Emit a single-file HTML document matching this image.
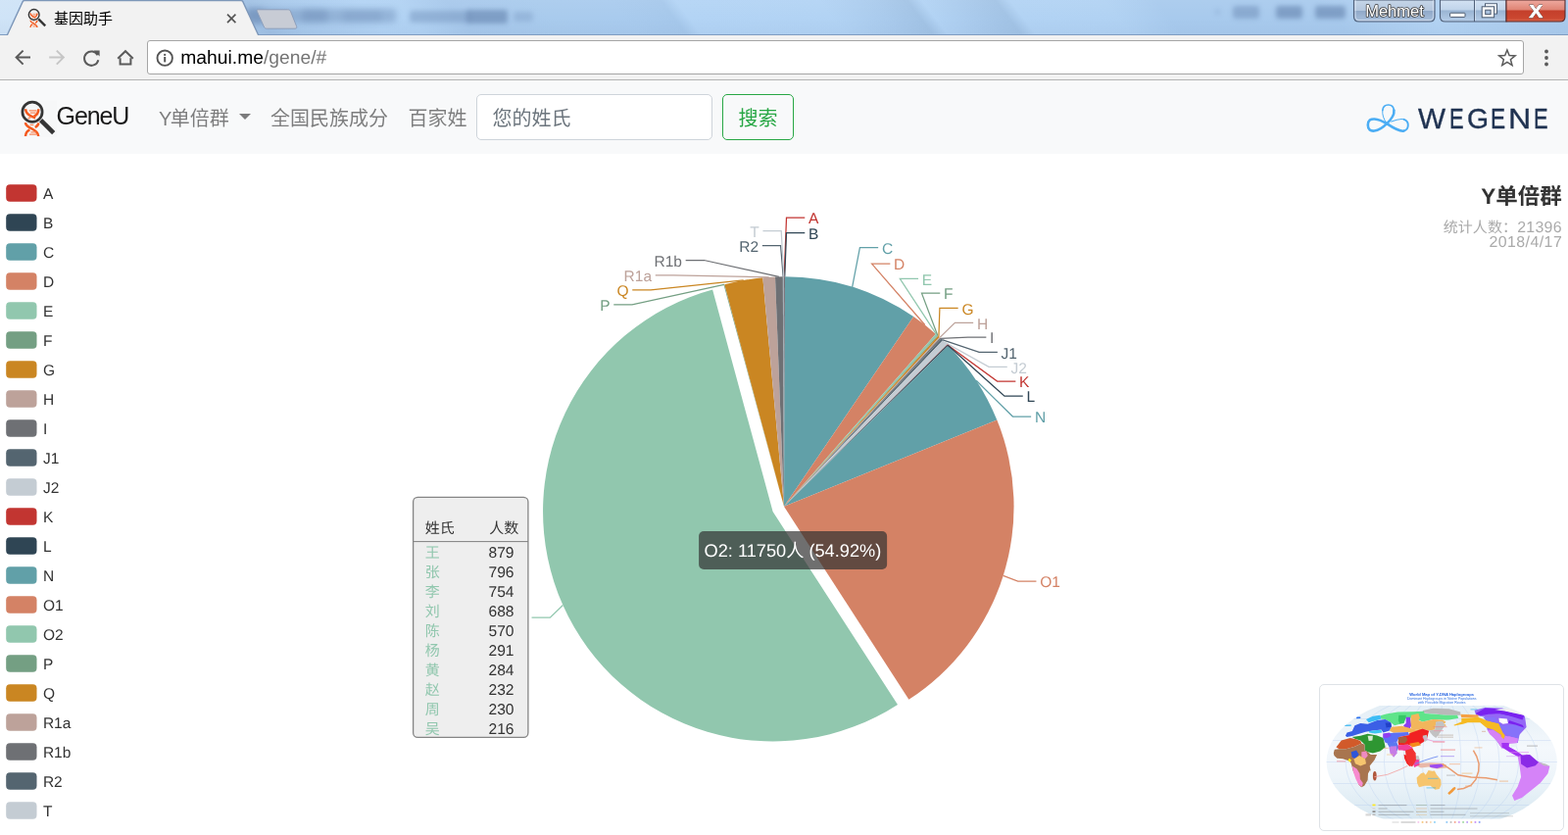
<!DOCTYPE html>
<html lang="zh-CN">
<head>
<meta charset="utf-8">
<title>基因助手</title>
<style>
*{box-sizing:border-box}
html,body{margin:0;padding:0;width:1600px;height:852px;overflow:hidden;background:#fff}
body{font-family:"Liberation Sans","Noto Sans CJK SC",sans-serif;position:relative;color:#333}
.abs{position:absolute}
#titlebar{left:0;top:0;width:1600px;height:36px;overflow:hidden;
 background:
  linear-gradient(180deg,rgba(255,255,255,.06) 0,rgba(255,255,255,0) 50%,rgba(70,100,150,.05) 100%),
  linear-gradient(53.13deg,#d0e4f7 0px,#cee3f7 42px,#b6d4f2 58px,#a9c9eb 200px,#a0c0e3 222px,#a8c9eb 250px,#b2d3f4 315px,#b1d2f3 347px,#a7c8eb 385px,#a9cbed 460px,#a9cbee 520px,#a6c8eb 561px,#b3d4f5 573px,#b2d3f4 690px,#a9caec 736px,#a2c3e5 762px,#b2d3f4 774px,#a9caec 806px,#a2c3e5 834px,#b2d3f4 846px,#b1d2f3 923px,#a8caed 965px,#a8caed 1100px,#b3d3f3 1180px,#a8c9eb 1302px);}
#titlebar:after{content:"";position:absolute;left:0;right:0;bottom:0;height:1px;background:#7f9cc1}
.blurtxt{position:absolute;background:#6b8ab4;filter:blur(2.6px);border-radius:3px;opacity:.75}
#toolbar{left:0;top:36px;width:1600px;height:46px;background:#f2f2f2;border-bottom:1px solid #b3b3b3}
#omni{left:150px;top:41px;width:1405px;height:35px;background:#fff;border:1px solid #a6a6a6;border-radius:3px}
#url{left:184.3px;top:47.8px;font-size:19.3px;line-height:24px;color:#000;white-space:nowrap;letter-spacing:0;text-rendering:geometricPrecision}
#url span{color:#757575}
#tabtitle{left:55px;top:7px;font-size:15px;line-height:24px;color:#000;white-space:nowrap}
#page{left:0;top:82px;width:1600px;height:770px;background:#fff}
#navbar{left:0;top:82px;width:1600px;height:75px;background:#f8f9fa}
.brand{left:57.6px;top:103px;font-size:25px;line-height:30px;color:rgba(0,0,0,.9);white-space:nowrap;letter-spacing:-1.1px}
.nl{top:105.7px;font-size:20px;line-height:30px;color:rgba(0,0,0,.5);white-space:nowrap}
#caret{left:243.8px;top:116px;width:0;height:0;border-left:6.25px solid transparent;border-right:6.25px solid transparent;border-top:6.25px solid rgba(0,0,0,.5)}
#inp{left:486px;top:96px;width:241px;height:47px;background:#fff;border:1px solid #ced4da;border-radius:5px}
#ph{left:502.5px;top:105.7px;font-size:20px;line-height:30px;color:#6c757d;white-space:nowrap}
#btn{left:737px;top:96px;width:73px;height:47px;border:1px solid #28a745;border-radius:5px;background:transparent}
#btntxt{left:753.5px;top:105.7px;font-size:20px;line-height:30px;color:#28a745;white-space:nowrap}
#wegene{left:1440px;top:101.2px;width:150px;height:40px;font-size:29.5px;line-height:40px;color:#1f3251}#wegene span{position:absolute;top:0;display:block;transform-origin:0 0;-webkit-text-stroke:.35px #1f3251}
#thumb{left:1346px;top:698px;width:250px;height:150px;background:#fff;border:1px solid #dee2e6;border-radius:5px}
svg{position:absolute;left:0;top:0;overflow:visible}
svg text{font-family:"Liberation Sans","Noto Sans CJK SC",sans-serif}
#chart text{text-rendering:geometricPrecision}
</style>
</head>
<body>
<!-- ================= browser chrome ================= -->
<div id="titlebar" class="abs">
 <div class="blurtxt" style="left:250px;top:9px;width:154px;height:14px;opacity:.42;filter:blur(3px)"></div>
 <div class="blurtxt" style="left:252px;top:9px;width:18px;height:15px;opacity:.5;filter:blur(3px)"></div>
 <div class="blurtxt" style="left:308px;top:10px;width:26px;height:12px;opacity:.4;filter:blur(3px)"></div>
 <div class="blurtxt" style="left:350px;top:11px;width:40px;height:11px;opacity:.25;filter:blur(3px)"></div>
 <div class="blurtxt" style="left:418px;top:11px;width:62px;height:12px;opacity:.42"></div>
 <div class="blurtxt" style="left:476px;top:10px;width:42px;height:14px;opacity:.68"></div>
 <div class="blurtxt" style="left:524px;top:12px;width:20px;height:10px;opacity:.3"></div>
 <div class="blurtxt" style="left:1240px;top:9px;width:5px;height:6px;opacity:.25"></div>
 <div class="blurtxt" style="left:1258px;top:6px;width:27px;height:13px;opacity:.5"></div>
 <div class="blurtxt" style="left:1302px;top:6px;width:27px;height:13px;opacity:.68"></div>
 <div class="blurtxt" style="left:1342px;top:6px;width:31px;height:13px;opacity:.68"></div>
</div>
<div id="toolbar" class="abs"></div>
<svg id="chrome" class="abs" width="1600" height="82" viewBox="0 0 1600 82">
<defs>
 <linearGradient id="gMeh" x1="0" y1="0" x2="0" y2="1">
  <stop offset="0" stop-color="#c6d6e8"/><stop offset="0.48" stop-color="#b4c7de"/><stop offset="0.5" stop-color="#8fa8c8"/><stop offset="1" stop-color="#a9c0dc"/>
 </linearGradient>
 <linearGradient id="gBtn" x1="0" y1="0" x2="0" y2="1">
  <stop offset="0" stop-color="#d3e2f3"/><stop offset="0.45" stop-color="#c0d4ea"/><stop offset="0.5" stop-color="#9ab4d3"/><stop offset="1" stop-color="#b5cde8"/>
 </linearGradient>
 <linearGradient id="gClose" x1="0" y1="0" x2="0" y2="1">
  <stop offset="0" stop-color="#eeaaa0"/><stop offset="0.45" stop-color="#df8474"/><stop offset="0.5" stop-color="#c43f2b"/><stop offset="0.85" stop-color="#cb4730"/><stop offset="1" stop-color="#d8684e"/>
 </linearGradient>
</defs>
<!-- active tab -->
<path d="M6.8 37 L23.3 1.4 Q23.8 0.6 25 0.6 L246 0.6 Q247.2 0.6 247.700 1.4 L264.2 37" fill="#f2f2f2" stroke="#7d97b9" stroke-width="1.4" stroke-linejoin="round"/>
<rect x="0" y="36" width="1600" height="3" fill="#f2f2f2"/>
<!-- new tab button -->
<path d="M263.3 9.8 L293.6 9.8 C295.2 9.8 296 10.4 296.6 11.8 L302.6 26.8 C303.2 28.4 302.6 29.2 301 29.2 L272.600 29.2 C270.8 29.2 269.8 28.6 269.2 27 L262.400 11.8 C261.8 10.5 262.100 9.8 263.3 9.8 Z" fill="#c8ccd5" stroke="#8c9fbc" stroke-width="1"/>
<!-- window buttons -->
<path d="M1381.5 0 L1381.5 17 Q1381.5 22 1386.5 22 L1459 22 Q1464 22 1464 17 L1464 0 Z" fill="url(#gMeh)" stroke="#4f5f78" stroke-width="1.1"/>
<path d="M1383 0 L1383 16.5 Q1383 20.6 1387 20.6 L1458.6 20.6 Q1462.6 20.6 1462.6 16.5 L1462.6 0" fill="none" stroke="#e6eef8" stroke-width="0.8" opacity=".8"/>
<path d="M1469.5 0 L1469.5 17 Q1469.5 22 1474.5 22 L1537 22 L1537 0 Z" fill="url(#gBtn)" stroke="#4f5f78" stroke-width="1.1"/>
<path d="M1537 0 L1537 22 L1592 22 Q1597 22 1597 17 L1597 0 Z" fill="url(#gClose)" stroke="#5a2a2a" stroke-width="1.1"/>
<line x1="1504.5" y1="0" x2="1504.5" y2="22" stroke="#4f5f78" stroke-width="1"/>
<line x1="1505.6" y1="0" x2="1505.6" y2="21" stroke="#e6eef8" stroke-width="0.8" opacity=".7"/>
<!-- minimize -->
<rect x="1479.6" y="13.2" width="15.4" height="4.2" rx="0.8" fill="#fff" stroke="#4b5a70" stroke-width="1"/>
<!-- maximize/restore -->
<rect x="1515.5" y="3.8" width="12" height="10.2" fill="#c9d8ea" stroke="#4b5a70" stroke-width="1"/>
<rect x="1516.8" y="5.1" width="9.4" height="7.6" fill="none" stroke="#fff" stroke-width="1.4"/>
<rect x="1512.2" y="6.8" width="12.4" height="11" fill="#fff" stroke="#4b5a70" stroke-width="1"/>
<rect x="1515.7" y="10.2" width="5.4" height="4.4" fill="#a9c0dc" stroke="#4b5a70" stroke-width="1"/>
<!-- close X -->
<g transform="translate(1567.4,17.7) scale(1.16,1.0)" text-anchor="middle" font-size="18.2" font-weight="bold" style="font-family:'Liberation Sans',sans-serif"><text x="0" y="0" fill="#fff" stroke="#fff" stroke-width="0.6" stroke-linejoin="round" style="filter:drop-shadow(0 0 .55px #401818) drop-shadow(0 0 .45px #401818)">X</text></g>
<text x="1423" y="17.2" text-anchor="middle" font-size="16.5" fill="#fff" stroke="#3d3d3d" stroke-width="1.6" paint-order="stroke" stroke-linejoin="round" style="font-family:'Liberation Sans',sans-serif">Mehmet</text>

</svg>
<div id="omni" class="abs"></div>
<div id="tabtitle" class="abs">基因助手</div>
<div id="url" class="abs">mahui.me<span>/gene/#</span></div>
<svg id="chrome2" class="abs" width="1600" height="82" viewBox="0 0 1600 82">
<g fill="none" stroke="#5a5a5a" stroke-width="2" stroke-linecap="butt" stroke-linejoin="miter">
 <!-- back -->
 <path d="M31 58.6 H17.2 M23.6 51.6 L16.6 58.6 L23.6 65.6"/>
 <!-- reload -->
 <path d="M99.6 56.2 A7.2 7.2 0 1 0 100.3 61.2"/>
 <!-- home -->
 <path d="M122.6 59.2 V65.6 H133.4 V59.2" />
 <path d="M120.2 59.8 L128 52.2 L135.8 59.8" />
</g>
<path d="M95.6 51.4 H101.6 V57.6 Z" fill="#5a5a5a"/>
<!-- forward (disabled) -->
<g fill="none" stroke="#c6c6c6" stroke-width="2">
 <path d="M50.2 58.6 H64.2 M57.8 51.6 L64.8 58.6 L57.8 65.6"/>
</g>
<!-- tab close -->
<path d="M232 14.7 L240.4 23.1 M240.4 14.7 L232 23.1" stroke="#555" stroke-width="1.7" fill="none"/>
<!-- info icon -->
<circle cx="168.2" cy="59.2" r="7.7" fill="none" stroke="#555" stroke-width="1.9"/>
<rect x="167.2" y="58" width="2" height="5.4" fill="#555"/>
<rect x="167.2" y="54.9" width="2" height="2" fill="#555"/>
<!-- star -->
<path d="M1537.9 51.0 L1540.1 56.6 L1546.1 56.9 L1541.4 60.7 L1543.0 66.6 L1537.9 63.3 L1532.8 66.6 L1534.4 60.7 L1529.7 56.9 L1535.7 56.6 Z" fill="none" stroke="#5a5a5a" stroke-width="1.5" stroke-linejoin="miter"/>
<!-- menu dots -->
<circle cx="1578" cy="52.5" r="1.9" fill="#5a5a5a"/><circle cx="1578" cy="59" r="1.9" fill="#5a5a5a"/><circle cx="1578" cy="65.5" r="1.9" fill="#5a5a5a"/>
<!-- favicon -->
<use href="#geneu" transform="translate(17.2,-45.6) scale(0.53)"/>

</svg>

<!-- ================= page ================= -->
<div id="navbar" class="abs"></div>
<div class="abs brand">GeneU</div>
<div class="abs nl" style="left:162px"><span style="letter-spacing:-1.6px">Y</span>单倍群</div>
<div id="caret" class="abs"></div>
<div class="abs nl" style="left:276px">全国民族成分</div>
<div class="abs nl" style="left:416.5px">百家姓</div>
<div id="inp" class="abs"></div>
<div id="ph" class="abs">您的姓氏</div>
<div id="btn" class="abs"></div>
<div id="btntxt" class="abs">搜索</div>
<div id="wegene" class="abs"><span style="left:7.02px;transform:scaleX(1.007)">W</span><span style="left:39.15px;transform:scaleX(0.744)">E</span><span style="left:56.82px;transform:scaleX(0.961)">G</span><span style="left:81.29px;transform:scaleX(0.769)">E</span><span style="left:99.21px;transform:scaleX(1.092)">N</span><span style="left:125.35px;transform:scaleX(0.744)">E</span></div>
<svg id="logos" class="abs" width="1600" height="160" viewBox="0 0 1600 160">
<defs>
<g id="geneu">
 <g fill="none" stroke="#f4591d" stroke-width="2.5" stroke-linecap="butt">
  <path d="M26.1 111.3 C26.4 116.6 30.8 118.4 36.2 120.4"/>
  <path d="M39.3 111.3 C39.3 115.2 37.4 117.6 34.6 118.6"/>
  <path d="M31.6 119.6 C30.6 120 29.6 120.5 28.6 121.2" stroke-width="1.6" stroke="#f7946a"/>
  <path d="M25.9 125.2 C26.6 132 38.6 130.6 39.2 139"/>
  <path d="M39.3 125.4 C39.1 127.6 37.8 129 35.8 130"/>
  <path d="M30.4 132.4 C27.6 133.6 26.2 135.6 26 139"/>
 </g>
 <path d="M29.6 112.9 H37.4 M30.8 115.1 H36.6 M30.6 127.3 H34.4 M31.4 134.9 H36.6 M30 137.1 H37.6" stroke="#f7895c" stroke-width="1.3" fill="none"/>
 <circle cx="33" cy="114.2" r="10.1" fill="none" stroke="#353535" stroke-width="2.7"/>
 <path d="M41.6 122.6 L54.7 135.7" stroke="#353535" stroke-width="4.5" stroke-linecap="butt"/>
</g>
</defs>
<rect x="20.5" y="102.5" width="37.5" height="37.5" fill="#f6f7f8"/>
<use href="#geneu"/>
<!-- WeGene knot -->
<g fill="none" stroke="#4badf4" stroke-linecap="round" stroke-linejoin="round">
 <path d="M1414.3 124.8 C1412 121.5 1410.2 117 1410.8 112.5" stroke-width="1"/>
 <path d="M1410.8 112.5 C1411.6 105.3 1421.6 105.1 1422.4 112.5" stroke-width="1.7"/>
 <path d="M1422.4 112.5 C1423 117 1420.5 121 1415.1 126.2 C1407 134.5 1395.8 137 1395.8 127.6 C1395.8 117.800 1407.5 121.5 1415.1 126.2 C1423 131.5 1429.5 134.2 1432.500 133.6" stroke-width="2.6"/>
 <path d="M1432.500 133.6 C1435.2 133 1436.800 131 1436.800 127.6 C1436.800 124.5 1435.2 122.6 1432.6 121.8" stroke-width="1.9"/>
 <path d="M1432.6 121.8 C1429 121 1424 122.300 1419.8 124.100" stroke-width="1.1"/>
</g>

</svg>

<div id="thumb" class="abs"></div>
<svg id="map" class="abs" width="1600" height="852" viewBox="0 0 1600 852">
<defs>
<clipPath id="mclip"><rect x="1352" y="720" width="238" height="115.4"/></clipPath>
<clipPath id="eclip"><ellipse cx="1471.2" cy="777.3" rx="117.6" ry="68"/></clipPath>
<linearGradient id="sea" x1="0" y1="0" x2="0" y2="1"><stop offset="0" stop-color="#e1edf5"/><stop offset="0.38" stop-color="#f4f8fc"/><stop offset="0.62" stop-color="#eef5fa"/><stop offset="1" stop-color="#d5e6f0"/></linearGradient>
<filter id="mb" x="-5%" y="-5%" width="110%" height="110%"><feGaussianBlur stdDeviation="0.7"/></filter>
<filter id="mb2" x="-5%" y="-20%" width="110%" height="140%"><feGaussianBlur stdDeviation="0.35"/></filter>
</defs>
<g clip-path="url(#mclip)"><g clip-path="url(#eclip)">
<rect x="1350" y="715" width="245" height="125" fill="url(#sea)"/>
<g fill="none" stroke="#a9c4ee" stroke-width="0.55" opacity=".5"><line x1="1352" y1="733.5" x2="1590" y2="733.5"/><line x1="1352" y1="755.5" x2="1590" y2="755.5"/><line x1="1352" y1="777.5" x2="1590" y2="777.5"/><line x1="1352" y1="799.5" x2="1590" y2="799.5"/><line x1="1352" y1="821.5" x2="1590" y2="821.5"/><path d="M1471.2 709.3 A98.0 68 0 0 0 1471.2 845.3"/><path d="M1471.2 709.3 A78.4 68 0 0 0 1471.2 845.3"/><path d="M1471.2 709.3 A58.8 68 0 0 0 1471.2 845.3"/><path d="M1471.2 709.3 A39.2 68 0 0 0 1471.2 845.3"/><path d="M1471.2 709.3 A19.6 68 0 0 0 1471.2 845.3"/><line x1="1471.2" y1="715" x2="1471.2" y2="840"/><path d="M1471.2 709.3 A19.6 68 0 0 1 1471.2 845.3"/><path d="M1471.2 709.3 A39.2 68 0 0 1 1471.2 845.3"/><path d="M1471.2 709.3 A58.8 68 0 0 1 1471.2 845.3"/><path d="M1471.2 709.3 A78.4 68 0 0 1 1471.2 845.3"/><path d="M1471.2 709.3 A98.0 68 0 0 1 1471.2 845.3"/></g>
<g filter="url(#mb)">
<polygon points="1451.6,724.9 1462.2,722.8 1476.0,723.1 1466.0,723.1 1478.7,723.3 1490.3,726.5 1490.3,729.7 1466.0,729.7 1476.0,729.7 1460.0,728.1 1452.7,727.6" fill="#b9b9b9"/>
<polygon points="1408.3,730.2 1414.6,728.6 1426.3,726.5 1441.0,726.3 1452.7,725.7 1453.7,728.1 1462.2,728.6 1476.0,729.7 1466.0,729.7 1487.1,729.7 1488.2,732.8 1478.7,734.4 1466.0,735.0 1476.0,734.4 1462.2,733.9 1451.6,736.5 1447.4,734.4 1441.0,732.8 1434.7,732.3 1428.4,738.7 1423.1,740.2 1418.9,737.1 1413.6,733.9 1409.4,733.4" fill="#5ee48a"/>
<polygon points="1427.3,729.7 1434.7,729.7 1434.7,732.3 1432.6,738.1 1428.4,738.7 1426.8,735.0" fill="#35c766"/>
<polygon points="1434.7,731.8 1438.9,731.8 1440.2,740.2 1438.9,742.9 1433.6,742.9 1432.1,740.2 1434.7,738.1" fill="#8b3df2"/>
<polygon points="1440.0,729.7 1447.4,728.1 1449.0,732.8 1447.4,735.0 1451.6,736.5 1462.2,733.9 1476.0,734.4 1466.0,735.0 1472.3,735.0 1475.5,736.5 1472.3,740.2 1470.2,742.4 1476.0,740.2 1470.6,736.0 1465.3,737.1 1464.3,744.5 1457.9,745.5 1451.6,743.4 1445.3,744.5 1440.0,743.4 1439.5,736.0" fill="#f2b65c"/>
<polygon points="1465.3,736.5 1472.2,736.0 1474.3,740.2 1469.5,747.6 1465.3,752.9 1462.2,750.8 1457.9,745.5 1464.3,744.5" fill="#c2c2c2"/>
<polygon points="1419.9,741.8 1430.5,740.8 1438.9,742.9 1445.3,744.5 1451.6,743.4 1452.7,747.6 1441.0,748.2 1436.8,747.1 1422.0,747.8 1417.8,745.5" fill="#f3b256"/>
<polygon points="1372.9,750.8 1374.5,747.6 1379.8,746.0 1382.4,740.2 1388.2,738.1 1395.6,738.7 1405.1,735.0 1413.6,733.9 1418.9,737.1 1419.9,741.3 1417.8,745.5 1411.5,747.6 1409.4,744.5 1400.9,745.5 1393.5,746.8 1386.1,748.9 1379.8,751.0 1374.5,752.1" fill="#3a5fe6"/>
<polygon points="1413.6,737.6 1419.4,737.6 1419.9,741.5 1414.6,742.4" fill="#2340c8"/>
<polygon points="1394.0,733.9 1400.9,730.7 1408.3,729.7 1409.4,733.4 1405.1,735.0 1396.7,737.3" fill="#3ebcf5"/>
<polygon points="1384.0,731.6 1388.2,731.4 1388.4,733.1 1384.2,733.3" fill="#2a6ff0"/>
<polygon points="1367.1,739.7 1378.7,739.4 1378.7,740.7 1367.1,740.9" fill="#35b5f0"/>
<polygon points="1396.7,746.0 1405.1,745.0 1409.4,745.0 1410.4,747.6 1403.0,748.5 1397.2,747.6" fill="#3ec6f0"/>
<polygon points="1379.8,752.1 1388.2,750.8 1395.6,748.7 1405.1,750.6 1411.5,752.9 1412.5,757.1 1413.6,762.4 1408.3,766.6 1400.9,768.5 1395.6,767.2 1392.5,765.6 1392.5,759.8 1388.2,755.6 1383.0,754.0" fill="#2e9632"/>
<polygon points="1395.6,750.8 1400.9,750.8 1400.4,755.6 1396.7,755.9" fill="#d9ecd2"/>
<polygon points="1411.5,748.7 1422.0,747.8 1436.8,747.1 1438.1,750.0 1427.8,752.1 1425.4,757.1 1418.9,758.7 1413.6,757.7 1411.3,752.9" fill="#5b70f6"/>
<polygon points="1411.3,748.5 1417.8,747.6 1419.4,750.8 1415.7,753.1 1411.5,752.7" fill="#8f3ef2"/>
<polygon points="1415.2,758.2 1425.2,757.1 1427.3,762.4 1424.7,767.7 1422.0,770.9 1419.9,766.6 1417.8,762.4" fill="#5b78f0"/>
<polygon points="1418.9,761.4 1425.2,761.4 1425.0,766.6 1422.2,769.0 1419.4,766.6" fill="#c67be6"/>
<polygon points="1438.1,748.2 1451.6,743.4 1458.1,745.7 1456.3,752.9 1452.7,757.1 1447.4,760.3 1441.0,761.4 1436.8,759.8 1427.3,760.3 1426.5,757.1 1427.8,752.1 1438.1,750.0" fill="#f12424"/>
<polygon points="1426.5,752.4 1434.7,751.6 1436.3,755.0 1433.6,758.2 1427.3,758.0" fill="#a3623c"/>
<polygon points="1438.1,758.7 1447.4,757.1 1450.0,760.3 1441.0,762.4" fill="#f58a1e"/>
<polygon points="1451.6,750.8 1455.8,749.7 1456.9,755.0 1453.7,757.1" fill="#c2c2c2"/>
<polygon points="1426.3,760.3 1436.8,759.8 1441.0,762.4 1442.1,767.7 1438.9,770.9 1435.8,766.6 1430.5,765.6 1426.8,765.6" fill="#f2409a"/>
<polygon points="1435.8,765.6 1441.6,763.5 1442.6,769.8 1438.9,771.1" fill="#f86ac0"/>
<polygon points="1432.6,769.8 1435.8,770.9 1440.0,778.3 1438.9,781.6 1435.8,779.3 1433.1,774.0" fill="#f12424"/>
<polygon points="1438.9,771.9 1447.4,770.9 1449.0,776.1 1444.2,781.4 1440.0,779.3" fill="#c5c5c5"/>
<polygon points="1442.6,775.6 1447.4,775.1 1447.9,779.3 1443.7,780.2" fill="#f240a0"/>
<polygon points="1363.4,762.6 1368.7,755.6 1377.7,752.9 1383.0,754.0 1388.2,755.9 1389.5,758.4 1381.9,761.9 1373.5,764.3 1366.6,764.3" fill="#d15a2c"/>
<polygon points="1361.8,764.7 1366.6,764.3 1373.5,764.3 1381.9,761.9 1389.5,758.4 1392.5,759.8 1392.5,765.6 1395.6,767.2 1398.8,770.0 1405.1,770.0 1402.5,775.6 1397.7,781.4 1398.8,788.0 1398.5,778.7 1398.7,784.4 1396.0,789.2 1395.6,796.0 1392.2,801.8 1389.3,803.2 1386.4,800.8 1384.5,794.1 1380.6,786.4 1379.2,780.6 1377.8,776.7 1370.1,774.3 1364.3,773.8 1361.4,771.0 1360.8,768.2" fill="#a8754f"/>
<polygon points="1378.7,767.2 1384.0,765.6 1386.7,769.8 1383.0,774.2 1379.6,772.4" fill="#2f55d8"/>
<polygon points="1389.3,767.2 1394.0,766.6 1395.8,770.9 1393.0,774.2 1389.3,772.4" fill="#f08ac2"/>
<polygon points="1381.4,774.6 1387.2,770.9 1393.0,774.2 1394.0,779.3 1388.2,781.4 1383.0,779.3" fill="#f6c56e"/>
<polygon points="1379.7,781.5 1384.5,784.4 1387.4,789.2 1387.9,795.0 1390.8,798.9 1389.8,802.7 1386.4,800.8 1383.5,795.0 1381.1,788.3" fill="#f78bd0"/>
<ellipse cx="1402.8" cy="791.7" rx="1.9" ry="4.7" fill="#b0583c"/>
<polygon points="1376.1,774.6 1377.4,773.8 1378.0,774.9 1379.3,775.6 1378.2,776.7 1377.7,777.9 1376.8,776.8 1375.6,776.4" fill="#ffe81a"/>
<polygon points="1445.6,793.6 1449.9,789.2 1452.8,788.3 1454.8,790.7 1457.6,785.9 1461.5,786.8 1463.9,786.4 1465.8,790.2 1470.2,795.5 1470.6,800.8 1468.7,805.1 1464.4,805.8 1459.6,801.8 1453.8,801.8 1448.0,803.2 1446.1,798.9" fill="#f6c56e"/>
<polygon points="1448.0,778.7 1459.6,778.2 1471.1,778.7 1476.0,780.6 1476.0,783.5 1466.3,784.4 1457.6,782.5 1449.9,783.5 1446.1,781.5" fill="#e9b8a8"/>
<polygon points="1458.6,780.6 1471.1,779.6 1473.0,782.0 1466.3,784.0 1459.6,783.0" fill="#9d4cf0"/>
<polygon points="1433.6,772.9 1438.4,771.9 1440.8,779.6 1438.4,782.0 1435.5,778.7" fill="#f12424"/>
<polygon points="1440.8,775.8 1448.0,775.3 1448.5,780.6 1443.2,783.0" fill="#f240a0"/>
<polygon points="1477.2,809.3 1479.8,806.8 1483.0,803.6 1485.1,802.9 1485.4,804.7 1482.4,808.0 1478.9,811.0" fill="#f29a3a"/>
<polygon points="1434.0,765.8 1441.1,763.5 1444.6,768.4 1444.9,775.5 1441.1,782.2 1437.5,780.7 1434.9,773.7" fill="#f23030"/>
<polygon points="1417.3,762.3 1424.9,761.4 1425.6,768.4 1422.1,772.8 1418.5,768.4" fill="#c67be6"/>
<polygon points="1504.5,724.8 1515.0,721.9 1532.6,722.6 1544.9,726.2 1555.9,730.7 1557.6,742.0 1550.6,749.4 1548.8,757.9 1539.7,758.9 1537.9,762.4 1532.6,763.5 1527.3,756.1 1517.7,744.7 1515.0,731.8 1506.2,729.7" fill="#9468f6"/>
<polygon points="1490.3,728.8 1508.2,729.5 1508.8,731.8 1491.3,732.3" fill="#f5a144"/>
<polygon points="1491.3,733.1 1508.2,731.8 1516.7,735.0 1529.4,738.3 1533.6,747.6 1535.9,750.8 1534.1,755.0 1530.4,754.0 1531.7,750.0 1523.6,744.5 1516.7,742.4 1510.4,737.3 1497.7,737.3 1492.9,738.7 1484.0,740.4 1483.4,739.7 1491.3,736.5" fill="#f6ba22"/>
<polygon points="1505.6,728.1 1515.6,722.5 1527.2,723.1 1539.9,726.5 1555.2,729.7 1553.6,734.4 1539.9,730.2 1529.4,727.8 1518.8,728.8 1510.4,730.2" fill="#7a22f0"/>
<polygon points="1525.1,723.9 1539.9,722.8 1550.5,725.7 1555.2,729.7 1539.9,726.5" fill="#f0f0f0"/>
<polygon points="1513.5,732.0 1525.1,731.6 1529.4,737.1 1533.6,740.2 1546.3,739.2 1555.2,742.4 1551.0,747.6 1548.9,753.4 1539.9,750.8 1533.6,747.6 1529.4,738.3 1516.7,735.0" fill="#8672fa"/>
<polygon points="1529.4,732.8 1537.8,733.4 1538.9,738.1 1533.6,738.7 1529.9,736.5" fill="#fdfdfd"/>
<polygon points="1539.9,735.0 1553.6,739.7 1555.2,742.4 1546.3,739.4 1538.9,738.1" fill="#7a22f0"/>
<polygon points="1517.7,744.7 1523.6,744.5 1531.7,750.0 1530.4,754.0 1534.1,755.0 1535.9,750.8 1548.9,753.4 1548.6,757.3 1540.4,757.1 1538.9,761.4 1534.6,763.5 1527.8,755.6 1520.1,748.9" fill="#d583f8"/>
<polygon points="1533.6,757.3 1540.4,757.1 1538.9,761.4 1546.5,765.8 1553.9,771.1 1551.0,772.1 1539.9,765.8 1533.8,761.6" fill="#a233f2"/>
<polygon points="1539.9,756.6 1547.3,756.1 1548.4,761.4 1542.0,762.9" fill="#e9f2f8"/>
<polygon points="1517.7,744.7 1523.8,745.5 1530.9,750.8 1535.3,755.2 1539.7,751.2 1548.5,753.6 1547.8,758.2 1539.7,758.9 1537.9,761.7 1532.6,763.5 1527.3,756.1 1520.3,749.1" fill="#d583f8"/>
<polygon points="1532.3,757.9 1539.7,757.9 1539.7,762.4 1546.7,766.0 1554.1,771.2 1551.3,773.4 1539.7,767.0 1532.6,762.4" fill="#a233f2"/>
<polygon points="1515.0,726.2 1523.8,724.4 1536.1,725.8 1548.5,729.7 1543.2,730.7 1530.9,728.3 1520.3,728.3" fill="#7a22f0"/>
</g>
<g filter="url(#mb)">
<polygon points="1548.7,772.1 1558.2,769.5 1568.1,776.5 1581.4,781.7 1579.5,789.3 1571.9,798.8 1562.4,806.4 1552.9,814.0 1545.3,817.0 1543.0,811.7 1548.7,802.6 1552.1,792.7 1550.6,781.7" fill="#d583f8"/>
<polygon points="1551.5,770.8 1561.0,769.9 1570.0,777.8 1566.7,781.3 1558.2,783.6 1552.1,779.4" fill="#8a2ae6"/>
<polygon points="1570.0,777.8 1577.2,779.4 1581.4,781.7 1575.3,781.3" fill="#c0c0c0"/>
<polyline points="1503.4,765.7 1506.8,771.8 1509.1,779.4 1508.7,787.0 1505.9,795.5 1501.1,801.2 1493.5,804.5 1486.9,805.6" fill="none" stroke="#ea9c70" stroke-width="1.5"/>
<polyline points="1471.7,779.4 1480.2,785.1 1487.8,790.8 1501.1,793.1 1516.3,793.8 1527.8,795.7" fill="none" stroke="#ea9c70" stroke-width="1.5"/>
<polyline points="1402.3,792.7 1415.6,790.4 1428.9,785.1 1436.5,781.3" fill="none" stroke="#f2a0a0" stroke-width="0.8"/>
<polyline points="1444.1,779.4 1453.6,775.9 1463.1,772.9 1467.3,771.8" fill="none" stroke="#6f8cf0" stroke-width="0.9"/>
<polyline points="1451.7,752.7 1463.1,756.6 1474.5,756.9" fill="none" stroke="#f09ad0" stroke-width="0.8"/>
</g>
</g></g>
<g filter="url(#mb2)">
<g style="font-family:'Liberation Sans',sans-serif" text-anchor="middle" fill="#2f6fe0">
<text x="1471.2" y="709.6" font-size="4.1" font-weight="bold" fill="#1f5fe0">World Map of Y-DNA Haplogroups</text>
<text x="1471.2" y="713.9" font-size="3.55">Dominant Haplogroups in Native Populations</text>
<text x="1471.2" y="718.1" font-size="3.55">with Possible Migration Routes</text>
</g>
<rect x="1400.5" y="820.6" width="3" height="1.7" fill="#ffe81a"/><rect x="1406.5" y="821.0" width="29" height="1.1" fill="#6a6a6a" opacity=".38"/><rect x="1445" y="821.1" width="11" height="0.8" fill="#9ab0a0" opacity=".8"/><rect x="1459.5" y="821.0" width="15" height="1.1" fill="#6a6a6a" opacity=".36"/><rect x="1500" y="821.0" width="0" height="1" fill="#7a7a7a" opacity=".3"/><rect x="1400.5" y="824.1" width="3" height="1.7" fill="#d9d9d9"/><rect x="1406.5" y="824.5" width="9" height="1.1" fill="#6a6a6a" opacity=".38"/><rect x="1445" y="824.6" width="11" height="0.8" fill="#e0c0a0" opacity=".8"/><rect x="1459.5" y="824.5" width="48" height="1.1" fill="#6a6a6a" opacity=".36"/><rect x="1500" y="824.5" width="0" height="1" fill="#7a7a7a" opacity=".3"/><rect x="1400.5" y="827.3" width="3" height="1.7" fill="#8c8c8c"/><rect x="1406.5" y="827.7" width="36" height="1.1" fill="#6a6a6a" opacity=".38"/><rect x="1445" y="827.8" width="11" height="0.8" fill="#b0a080" opacity=".8"/><rect x="1459.5" y="827.7" width="14" height="1.1" fill="#6a6a6a" opacity=".36"/><rect x="1500" y="829.2" width="40" height="1" fill="#7a7a7a" opacity=".3"/><rect x="1400.5" y="830.4" width="3" height="1.7" fill="#bdbdbd"/><rect x="1406.5" y="830.8" width="32" height="1.1" fill="#6a6a6a" opacity=".38"/><rect x="1445" y="830.9" width="11" height="0.8" fill="#e0c8a0" opacity=".8"/><rect x="1459.5" y="830.8" width="36" height="1.1" fill="#6a6a6a" opacity=".36"/><rect x="1500" y="832.3" width="44" height="1" fill="#7a7a7a" opacity=".3"/><rect x="1393.5" y="830.3" width="5.5" height="2.2" fill="#9a9a9a" opacity=".4"/><rect x="1420.5" y="838.3" width="7" height="1.4" fill="#9a9a9a" opacity=".3"/><rect x="1429.5" y="838.3" width="15" height="1.4" fill="#6a6a6a" opacity=".35"/><rect x="1446.5" y="837.9" width="1.7" height="2" fill="#f0a0e0" opacity=".55"/><rect x="1450.7" y="837.9" width="1.7" height="2" fill="#f0a020" opacity=".55"/><rect x="1454.8" y="837.9" width="1.7" height="2" fill="#d08050" opacity=".55"/><rect x="1459.0" y="837.9" width="1.7" height="2" fill="#f5c080" opacity=".55"/><rect x="1463.1" y="837.9" width="1.7" height="2" fill="#40b0f0" opacity=".55"/><rect x="1467.2" y="837.9" width="1.7" height="2" fill="#ffffff" opacity=".55"/><rect x="1471.4" y="837.9" width="1.7" height="2" fill="#ffffff" opacity=".55"/><rect x="1475.5" y="837.9" width="1.7" height="2" fill="#40a0f0" opacity=".55"/><rect x="1479.7" y="837.9" width="1.7" height="2" fill="#909090" opacity=".55"/><rect x="1483.8" y="837.9" width="1.7" height="2" fill="#f06040" opacity=".55"/><rect x="1488.0" y="837.9" width="1.7" height="2" fill="#b060f0" opacity=".55"/><rect x="1492.2" y="837.9" width="1.7" height="2" fill="#60c060" opacity=".55"/><rect x="1496.3" y="837.9" width="1.7" height="2" fill="#9060f0" opacity=".55"/><rect x="1500.5" y="837.9" width="1.7" height="2" fill="#f0a020" opacity=".55"/><rect x="1504.6" y="837.9" width="1.7" height="2" fill="#a040f0" opacity=".55"/><rect x="1508.8" y="837.9" width="1.7" height="2" fill="#4060f0" opacity=".55"/>
<rect x="1500.5" y="723.3" width="7.0" height="1.2" fill="#30b0e8" opacity=".5"/>
<rect x="1455.5" y="803.3" width="9.5" height="1.2" fill="#30b0e8" opacity=".5"/>
<rect x="1457.0" y="793.8" width="10.5" height="1.2" fill="#40b8f0" opacity=".5"/>
<rect x="1411.5" y="762.8" width="5.0" height="1.2" fill="#e0a060" opacity=".5"/>
<rect x="1415.0" y="769.4" width="7.0" height="1.2" fill="#f0c080" opacity=".5"/>
<rect x="1462.5" y="741.0" width="14.0" height="1.2" fill="#e98080" opacity=".5"/>
<rect x="1463.0" y="745.0" width="10.0" height="1.2" fill="#f090a0" opacity=".5"/>
<rect x="1462.0" y="756.5" width="12.0" height="1.2" fill="#f08080" opacity=".5"/>
<rect x="1470.0" y="764.5" width="15.0" height="1.2" fill="#f06060" opacity=".5"/>
<rect x="1470.0" y="771.0" width="14.0" height="1.2" fill="#9070f0" opacity=".5"/>
<rect x="1479.0" y="779.0" width="11.0" height="1.2" fill="#f0a070" opacity=".5"/>
<rect x="1467.0" y="749.5" width="16.0" height="1.2" fill="#b0a090" opacity=".5"/>
<rect x="1467.0" y="751.6" width="16.0" height="1.2" fill="#b8a898" opacity=".5"/>
<rect x="1364.0" y="776.2" width="9.0" height="1.2" fill="#f07080" opacity=".5"/>
<rect x="1537.0" y="771.0" width="12.0" height="1.2" fill="#d0a0f0" opacity=".5"/>
<rect x="1558.0" y="760.5" width="11.0" height="1.2" fill="#909090" opacity=".5"/>
<rect x="1540.0" y="767.0" width="20.0" height="1.2" fill="#e080f0" opacity=".5"/>
<rect x="1504.5" y="762.3" width="8.0" height="1.2" fill="#e8b080" opacity=".5"/>
<rect x="1512.0" y="745.8" width="4.0" height="1.2" fill="#d0a080" opacity=".5"/>
<rect x="1491.5" y="788.5" width="11.0" height="1.2" fill="#f0b060" opacity=".5"/>
<rect x="1530.0" y="796.5" width="9.0" height="1.2" fill="#f0a060" opacity=".5"/>
<rect x="1495.0" y="801.5" width="7.0" height="1.2" fill="#f0a070" opacity=".5"/>
<rect x="1476.0" y="790.5" width="9.0" height="1.2" fill="#a0a0a0" opacity=".5"/>
</g>
</svg>

<svg id="chart" class="abs" width="1600" height="852" viewBox="0 0 1600 852">
<g shape-rendering="geometricPrecision">
<path d="M800 516.85L800 282.3A234.55 234.55 0 0 1 800.41 282.3Z" fill="#c23531"/>
<path d="M800 516.85L800.41 282.3A234.55 234.55 0 0 1 801.02 282.3Z" fill="#2f4554"/>
<path d="M800 516.85L801.02 282.3A234.55 234.55 0 0 1 932.18 323.09Z" fill="#61a0a8"/>
<path d="M800 516.85L932.18 323.09A234.55 234.55 0 0 1 954.8 340.64Z" fill="#d48265"/>
<path d="M800 516.85L954.8 340.64A234.55 234.55 0 0 1 956.49 342.14Z" fill="#91c7ae"/>
<path d="M800 516.85L956.49 342.14A234.55 234.55 0 0 1 957.25 342.82Z" fill="#749f83"/>
<path d="M800 516.85L957.25 342.82A234.55 234.55 0 0 1 958.61 344.06Z" fill="#ca8622"/>
<path d="M800 516.85L958.61 344.06A234.55 234.55 0 0 1 959.36 344.75Z" fill="#bda29a"/>
<path d="M800 516.85L959.36 344.75A234.55 234.55 0 0 1 960.56 345.87Z" fill="#6e7074"/>
<path d="M800 516.85L960.56 345.87A234.55 234.55 0 0 1 962.05 347.28Z" fill="#546570"/>
<path d="M800 516.85L962.05 347.28A234.55 234.55 0 0 1 966.43 351.58Z" fill="#c4ccd3"/>
<path d="M800 516.85L966.43 351.58A234.55 234.55 0 0 1 966.63 351.78Z" fill="#c23531"/>
<path d="M800 516.85L966.63 351.78A234.55 234.55 0 0 1 967.58 352.74Z" fill="#2f4554"/>
<path d="M800 516.85L967.58 352.74A234.55 234.55 0 0 1 1017.32 428.61Z" fill="#61a0a8"/>
<path d="M800 516.85L1017.32 428.61A234.55 234.55 0 0 1 927.4 713.78Z" fill="#d48265"/>
<path d="M788.59 521.94L915.99 718.88A234.55 234.55 0 1 1 727.09 295.6Z" fill="#91c7ae"/>
<path d="M800 516.85L738.5 290.51A234.55 234.55 0 0 1 739.29 290.29Z" fill="#749f83"/>
<path d="M800 516.85L739.29 290.29A234.55 234.55 0 0 1 778.33 283.3Z" fill="#ca8622"/>
<path d="M800 516.85L778.33 283.3A234.55 234.55 0 0 1 791 282.47Z" fill="#bda29a"/>
<path d="M800 516.85L791 282.47A234.55 234.55 0 0 1 798.77 282.3Z" fill="#6e7074"/>
<path d="M800 516.85L798.77 282.3A234.55 234.55 0 0 1 799.59 282.3Z" fill="#546570"/>
<path d="M800 516.85L799.59 282.3A234.55 234.55 0 0 1 800 282.3Z" fill="#c4ccd3"/>
</g>
<g fill="none" stroke-width="1.25">
<polyline points="800.2,282.3 802.5,222.2 821.25,222.2" stroke="#c23531"/>
<polyline points="800.72,282.3 802.5,237.5 821.25,237.5" stroke="#2f4554"/>
<polyline points="869.65,292.88 877.4,252.7 896.15,252.7" stroke="#61a0a8"/>
<polyline points="943.76,331.52 889.6,269.1 908.35,269.1" stroke="#d48265"/>
<polyline points="955.65,341.39 918.3,284.4 937.05,284.4" stroke="#91c7ae"/>
<polyline points="956.87,342.48 940.5,299.1 959.25,299.1" stroke="#749f83"/>
<polyline points="957.93,343.44 958.9,314.4 977.65,314.4" stroke="#ca8622"/>
<polyline points="958.99,344.41 974.4,329.3 993.15,329.3" stroke="#bda29a"/>
<polyline points="959.96,345.31 987.6,344.2 1006.35,344.2" stroke="#6e7074"/>
<polyline points="961.31,346.57 999.1,359.3 1017.85,359.3" stroke="#546570"/>
<polyline points="964.25,349.41 1009,374.3 1027.75,374.3" stroke="#c4ccd3"/>
<polyline points="966.53,351.68 1017.6,389.1 1036.35,389.1" stroke="#c23531"/>
<polyline points="967.11,352.26 1025,404.1 1043.75,404.1" stroke="#2f4554"/>
<polyline points="996.15,388.25 1033.4,425 1052.15,425" stroke="#61a0a8"/>
<polyline points="1023.69,587.38 1038.7,593.1 1057.45,593.1" stroke="#d48265"/>
<polyline points="574.4,617.53 561.3,630.1 542.55,630.1" stroke="#91c7ae"/>
<polyline points="738.9,290.4 645,310.8 626.25,310.8" stroke="#749f83"/>
<polyline points="758.67,285.97 664,295.8 645.25,295.8" stroke="#ca8622"/>
<polyline points="784.66,282.8 687.5,280.8 668.75,280.8" stroke="#bda29a"/>
<polyline points="794.88,282.36 718.4,265.5 699.65,265.5" stroke="#6e7074"/>
<polyline points="799.18,282.3 796.6,250.7 777.85,250.7" stroke="#546570"/>
<polyline points="799.8,282.3 797.2,235.7 778.45,235.7" stroke="#c4ccd3"/>
</g>
<g font-size="15.5">
<text x="825" y="228.4" fill="#c23531">A</text>
<text x="825" y="243.7" fill="#2f4554">B</text>
<text x="899.9" y="258.9" fill="#61a0a8">C</text>
<text x="912.1" y="275.3" fill="#d48265">D</text>
<text x="940.8" y="290.6" fill="#91c7ae">E</text>
<text x="963" y="305.3" fill="#749f83">F</text>
<text x="981.4" y="320.6" fill="#ca8622">G</text>
<text x="996.9" y="335.5" fill="#bda29a">H</text>
<text x="1010.1" y="350.4" fill="#6e7074">I</text>
<text x="1021.6" y="365.5" fill="#546570">J1</text>
<text x="1031.5" y="380.5" fill="#c4ccd3">J2</text>
<text x="1040.1" y="395.3" fill="#c23531">K</text>
<text x="1047.5" y="410.3" fill="#2f4554">L</text>
<text x="1055.9" y="431.2" fill="#61a0a8">N</text>
<text x="1061.2" y="599.3" fill="#d48265">O1</text>
<text x="622.5" y="317" fill="#749f83" text-anchor="end">P</text>
<text x="641.5" y="302" fill="#ca8622" text-anchor="end">Q</text>
<text x="665" y="287" fill="#bda29a" text-anchor="end">R1a</text>
<text x="695.9" y="271.7" fill="#6e7074" text-anchor="end">R1b</text>
<text x="774.1" y="256.9" fill="#546570" text-anchor="end">R2</text>
<text x="774.7" y="241.9" fill="#c4ccd3" text-anchor="end">T</text>
</g>
<g font-size="15.5" fill="#333">
<rect x="6.2" y="188.2" width="31.3" height="17.5" rx="4" fill="#c23531"/><text x="43.9" y="202.5">A</text>
<rect x="6.2" y="218.2" width="31.3" height="17.5" rx="4" fill="#2f4554"/><text x="43.9" y="232.5">B</text>
<rect x="6.2" y="248.2" width="31.3" height="17.5" rx="4" fill="#61a0a8"/><text x="43.9" y="262.5">C</text>
<rect x="6.2" y="278.2" width="31.3" height="17.5" rx="4" fill="#d48265"/><text x="43.9" y="292.5">D</text>
<rect x="6.2" y="308.2" width="31.3" height="17.5" rx="4" fill="#91c7ae"/><text x="43.9" y="322.5">E</text>
<rect x="6.2" y="338.2" width="31.3" height="17.5" rx="4" fill="#749f83"/><text x="43.9" y="352.5">F</text>
<rect x="6.2" y="368.2" width="31.3" height="17.5" rx="4" fill="#ca8622"/><text x="43.9" y="382.5">G</text>
<rect x="6.2" y="398.2" width="31.3" height="17.5" rx="4" fill="#bda29a"/><text x="43.9" y="412.5">H</text>
<rect x="6.2" y="428.2" width="31.3" height="17.5" rx="4" fill="#6e7074"/><text x="43.9" y="442.5">I</text>
<rect x="6.2" y="458.2" width="31.3" height="17.5" rx="4" fill="#546570"/><text x="43.9" y="472.5">J1</text>
<rect x="6.2" y="488.2" width="31.3" height="17.5" rx="4" fill="#c4ccd3"/><text x="43.9" y="502.5">J2</text>
<rect x="6.2" y="518.2" width="31.3" height="17.5" rx="4" fill="#c23531"/><text x="43.9" y="532.5">K</text>
<rect x="6.2" y="548.2" width="31.3" height="17.5" rx="4" fill="#2f4554"/><text x="43.9" y="562.5">L</text>
<rect x="6.2" y="578.2" width="31.3" height="17.5" rx="4" fill="#61a0a8"/><text x="43.9" y="592.5">N</text>
<rect x="6.2" y="608.2" width="31.3" height="17.5" rx="4" fill="#d48265"/><text x="43.9" y="622.5">O1</text>
<rect x="6.2" y="638.2" width="31.3" height="17.5" rx="4" fill="#91c7ae"/><text x="43.9" y="652.5">O2</text>
<rect x="6.2" y="668.2" width="31.3" height="17.5" rx="4" fill="#749f83"/><text x="43.9" y="682.5">P</text>
<rect x="6.2" y="698.2" width="31.3" height="17.5" rx="4" fill="#ca8622"/><text x="43.9" y="712.5">Q</text>
<rect x="6.2" y="728.2" width="31.3" height="17.5" rx="4" fill="#bda29a"/><text x="43.9" y="742.5">R1a</text>
<rect x="6.2" y="758.2" width="31.3" height="17.5" rx="4" fill="#6e7074"/><text x="43.9" y="772.5">R1b</text>
<rect x="6.2" y="788.2" width="31.3" height="17.5" rx="4" fill="#546570"/><text x="43.9" y="802.5">R2</text>
<rect x="6.2" y="818.2" width="31.3" height="17.5" rx="4" fill="#c4ccd3"/><text x="43.9" y="832.5">T</text>
</g>
<g font-size="15">
<rect x="421.6" y="507.4" width="117.3" height="245" rx="4.6" fill="#eee" stroke="#858585" stroke-width="1.3"/>
<line x1="422" y1="552.6" x2="539" y2="552.6" stroke="#808080" stroke-width="1"/>
<text x="433.8" y="543.8" fill="#333">姓氏</text><text x="499.3" y="543.8" fill="#333">人数</text>
<text x="433.8" y="568.5" fill="#91c7ae">王</text><text x="498.5" y="569.1" fill="#333" font-size="15.6">879</text>
<text x="433.8" y="588.5" fill="#91c7ae">张</text><text x="498.5" y="589.1" fill="#333" font-size="15.6">796</text>
<text x="433.8" y="608.5" fill="#91c7ae">李</text><text x="498.5" y="609.1" fill="#333" font-size="15.6">754</text>
<text x="433.8" y="628.5" fill="#91c7ae">刘</text><text x="498.5" y="629.1" fill="#333" font-size="15.6">688</text>
<text x="433.8" y="648.5" fill="#91c7ae">陈</text><text x="498.5" y="649.1" fill="#333" font-size="15.6">570</text>
<text x="433.8" y="668.5" fill="#91c7ae">杨</text><text x="498.5" y="669.1" fill="#333" font-size="15.6">291</text>
<text x="433.8" y="688.5" fill="#91c7ae">黄</text><text x="498.5" y="689.1" fill="#333" font-size="15.6">284</text>
<text x="433.8" y="708.5" fill="#91c7ae">赵</text><text x="498.5" y="709.1" fill="#333" font-size="15.6">232</text>
<text x="433.8" y="728.5" fill="#91c7ae">周</text><text x="498.5" y="729.1" fill="#333" font-size="15.6">230</text>
<text x="433.8" y="748.5" fill="#91c7ae">吴</text><text x="498.5" y="749.1" fill="#333" font-size="15.6">216</text>
</g>
<text x="1593.8" y="207.8" text-anchor="end" font-size="22.5" font-weight="bold" fill="#333">Y单倍群</text>
<text x="1593.9" y="236.8" text-anchor="end" font-size="15" fill="#aaa" letter-spacing="0.1">统计人数<tspan style="font-family:'Noto Sans CJK JP','Noto Sans CJK SC',sans-serif">：</tspan><tspan font-size="15.9" letter-spacing="0.3">21396</tspan></text>
<text x="1594.2" y="251.9" text-anchor="end" font-size="15.9" fill="#aaa" letter-spacing="0.45">2018/4/17</text>
<rect x="713.1" y="542.1" width="192" height="38.8" rx="5" fill="rgba(50,50,50,0.7)"/>
<text x="718.6" y="568" font-size="18.2" fill="#fff">O2: 11750人 (54.92%)</text>
</svg>
</body>
</html>
